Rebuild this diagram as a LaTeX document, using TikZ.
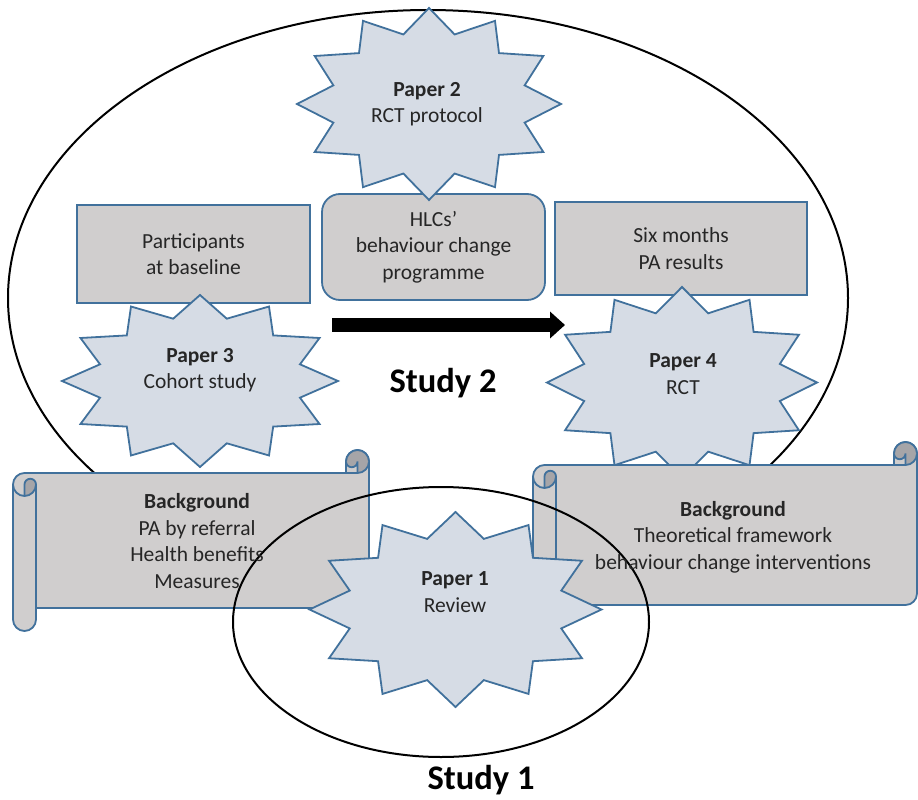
\documentclass[tikz,border=0pt]{standalone}
\usepackage{fontspec}
\setmainfont{Carlito}
\usetikzlibrary{arrows.meta}

\definecolor{boxgray}{RGB}{208,206,206}
\definecolor{curlgray}{RGB}{166,165,168}
\definecolor{starblue}{RGB}{214,220,229}
\definecolor{edgeblue}{RGB}{65,113,156}
\definecolor{txtgray}{RGB}{38,38,38}

\newcommand\bodyfont{\fontsize{21.5}{26.5}\selectfont}
\newcommand\studyfont{\fontsize{34.5}{40}\selectfont\bfseries}

% 12-point star: centre x, centre y, x radius, y radius
\newcommand\paperstar[4]{%
  \begin{scope}[shift={(#1,#2)}, xscale=#3, yscale=#4]
    \filldraw[starline] (0:1) \foreach \a in {0,30,...,330}{ -- (\a+15:0.75) -- (\a+30:1)} -- cycle;
  \end{scope}}

% horizontal scroll: left, top, right, bottom
\newcommand\scrollshape[4]{%
  \filldraw[scrollline]
    (#1,#2+34.5) arc[start angle=180, delta angle=90, radius=11.5]
    -- (#3-23,#2+23) -- (#3-23,#2+11.5)
    arc[start angle=180, delta angle=180, radius=11.5]
    -- (#3,#4-34.5) arc[start angle=0, delta angle=90, radius=11.5]
    -- (#1+23,#4-23) -- (#1+23,#4-11.5)
    arc[start angle=0, delta angle=180, radius=11.5] -- cycle;
  \fill[curlgray] (#3-11.5,#2+23) arc[start angle=90, delta angle=-270, radius=11.5]
    arc[start angle=180, delta angle=-180, radius=5.75] -- cycle;
  \fill[curlgray] (#1+11.5,#2+46) arc[start angle=90, delta angle=-90, radius=11.5]
    arc[start angle=0, delta angle=-180, radius=5.75] -- cycle;
  \draw[curlline] (#3-23,#2+11.5) arc[start angle=180, delta angle=180, radius=11.5];
  \draw[curlline] (#3-23,#2+23) -- (#3-11.5,#2+23) arc[start angle=90, delta angle=-90, radius=11.5];
  \draw[curlline] (#3-11.5,#2+23) -- (#3-11.5,#2+11.5) arc[start angle=0, delta angle=180, radius=5.75];
  \draw[curlline] (#1+11.5,#2+46) -- (#1+11.5,#2+34.5) arc[start angle=180, delta angle=180, radius=5.75]
    arc[start angle=0, delta angle=180, radius=11.5];
  \draw[curlline] (#1+23,#2+34.5) -- (#1+23,#4-23);}

\begin{document}
\begin{tikzpicture}[x=1pt, y=-1pt,
    graybox/.style={
        draw=edgeblue,
        fill=boxgray,
        line width=1.8pt,
        align=center,
        text=txtgray,
        font=\bodyfont,
        inner sep=0pt
    },
    starline/.style={draw=edgeblue, fill=starblue, line width=1.8pt, line join=miter},
    scrollline/.style={draw=edgeblue, fill=boxgray, line width=1.8pt},
    curlline/.style={draw=edgeblue, line width=1.8pt},
    studyring/.style={draw=black, line width=2pt},
    bigarrow/.style={-{Triangle[length=15pt, width=26pt]}, line width=14pt},
    papertext/.style={align=center, text=txtgray, font=\bodyfont, inner sep=0pt},
    studylabel/.style={font=\studyfont, text=black, inner sep=0pt}
]
\useasboundingbox (0,0) rectangle (918,800);

% Study 2
\draw[studyring] (428,298) ellipse[x radius=420, y radius=288];

\node[graybox, minimum width=233pt, minimum height=98pt] (base) at (193.5,254)
    {Participants\\at baseline};
\node[graybox, rounded corners=18pt, minimum width=223pt, minimum height=106pt] (hlc) at (433.5,247)
    {HLCs’\\behaviour change\\programme};
\node[graybox, minimum width=252pt, minimum height=93pt] (sixm) at (681,248.5)
    {Six months\\PA results};

\paperstar{429}{104}{132}{96}
\paperstar{200}{381}{138}{86}
\paperstar{682}{382.5}{135}{95.5}

\coordinate (armtail) at (332,325);
\coordinate (armhead) at (565,325);
\draw[bigarrow] (armtail) -- (armhead);

% background scrolls
\scrollshape{13}{450}{369}{631}
\scrollshape{533}{442}{917}{628}

% Study 1
\paperstar{455.5}{609.5}{146}{97.5}
\draw[studyring] (441,622) ellipse[x radius=208, y radius=135];

\node[papertext] (p2) at (427,104) {\textbf{Paper 2}\\RCT protocol};
\node[papertext] (p3) at (200,370) {\textbf{Paper 3}\\Cohort study};
\node[papertext] (p4) at (683,374) {\textbf{Paper 4}\\RCT};
\node[papertext] (p1) at (455,592) {\textbf{Paper 1}\\Review};

\node[papertext] (bgleft) at (197,541)
    {\textbf{Background}\\PA by referral\\Health benefits\\Measures};
\node[papertext] (bgright) at (733,537)
    {\textbf{Background}\\Theoretical framework\\behaviour change interventions};

\node[studylabel] (study2) at (443,383) {Study 2};
\node[studylabel] (study1) at (481,780) {Study 1};

\end{tikzpicture}
\end{document}
